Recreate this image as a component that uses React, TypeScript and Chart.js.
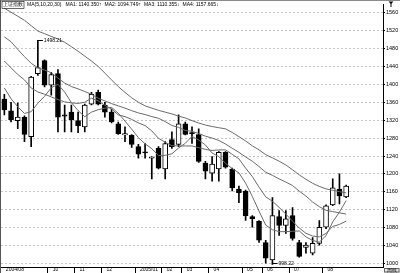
import React, { useEffect, useRef } from "react";
import { Chart, registerables } from "chart.js";

Chart.register(...registerables);

// x-axis tick labels (one slot per week, plus empty slots on the right)
const xLabels: string[] = [
  "2004/08", "", "", "", "", "", "", "10", "", "", "", "11", "", "", "", "12", "", "", "", "",
  "2005/01", "", "", "", "02", "", "", "03", "", "", "", "04", "", "", "", "", "05", "", "", "06",
  "", "", "", "07", "", "", "", "", "08", "", "", "", "", "", "", "", "",
];

const opens: number[] = [
  1367, 1341, 1319, 1327, 1283, 1424, 1453, 1398, 1424, 1332, 1338, 1319, 1305, 1356, 1382, 1354, 1338, 1312, 1287, 1286,
  1261, 1248, 1235, 1257, 1211, 1277, 1266, 1312, 1291, 1288, 1224, 1202, 1211, 1248, 1211, 1166, 1162, 1105, 1094, 1047,
  1008, 1105, 1085, 1107, 1047, 1036, 1023, 1045, 1081, 1131, 1166, 1149,
];
const highs: number[] = [
  1378, 1360, 1358, 1330, 1418, 1498.21, 1455, 1427, 1433, 1354, 1354, 1338, 1356, 1382, 1387, 1360, 1345, 1316, 1305, 1288,
  1266, 1268, 1239, 1261, 1272, 1294, 1332, 1316, 1305, 1301, 1228, 1239, 1250, 1250, 1213, 1173, 1164, 1107, 1096, 1052,
  1147, 1118, 1118, 1125, 1052, 1047, 1058, 1096, 1131, 1189, 1200, 1175,
];
const lows: number[] = [
  1332, 1316, 1301, 1272, 1261, 1420, 1394, 1376, 1294, 1294, 1294, 1292, 1294, 1354, 1354, 1327, 1314, 1288, 1272, 1259,
  1235, 1235, 1189, 1211, 1189, 1257, 1261, 1287, 1268, 1226, 1189, 1184, 1184, 1213, 1162, 1136, 1096, 1081, 1047, 1001,
  998.22, 1063, 1067, 1052, 1014, 1023, 1019, 1041, 1078, 1129, 1133, 1147,
];
const closes: number[] = [
  1343, 1321, 1327, 1288, 1416, 1437.6, 1398, 1422, 1327, 1329, 1321, 1308, 1354, 1378, 1356, 1338, 1316, 1290, 1290, 1265.7,
  1244, 1247, 1236, 1213, 1268, 1261, 1312, 1288, 1290, 1228, 1206, 1222, 1248, 1215, 1169, 1158, 1107, 1100, 1052, 1012,
  1107, 1085, 1100, 1056, 1016, 1041, 1045, 1081, 1129, 1169, 1151, 1173,
];

// moving averages
const ma5: number[] = [
  1392, 1368, 1350, 1335, 1339, 1357.9, 1373.3, 1392.3, 1400.1, 1382.7, 1359.4, 1341.4, 1327.8, 1338, 1343.4, 1346.8, 1348.4, 1335.6, 1318, 1299.9,
  1281.1, 1267.3, 1256.5, 1241.1, 1241.6, 1245, 1258, 1268.4, 1283.8, 1275.8, 1264.8, 1246.8, 1238.8, 1223.8, 1212, 1202.4, 1179.4, 1149.8, 1117.2, 1085.8,
  1075.6, 1071.2, 1071.2, 1072, 1072.8, 1059.6, 1051.6, 1047.8, 1062.4, 1093, 1115, 1140.35,
];
const ma10: number[] = [
  1452, 1437, 1422, 1410, 1392, 1383, 1378, 1372, 1366, 1360.9, 1358.7, 1357.4, 1360.1, 1369.1, 1363.1, 1353.1, 1344.9, 1331.7, 1328, 1321.7,
  1314, 1307.9, 1296.1, 1279.6, 1270.8, 1263.1, 1262.7, 1262.5, 1262.5, 1258.7, 1254.9, 1252.4, 1253.6, 1253.8, 1243.9, 1233.6, 1213.1, 1194.3, 1170.5, 1148.9,
  1139, 1125.3, 1110.5, 1094.6, 1079.3, 1067.6, 1061.4, 1059.5, 1067.2, 1082.9, 1087.3, 1094.749,
];
const ma20: number[] = [
  1506, 1495, 1478, 1462, 1447, 1437, 1432, 1426, 1414, 1403, 1395, 1390, 1384, 1378, 1369, 1363, 1357, 1352, 1347, 1341.3,
  1336.3, 1332.6, 1328.1, 1324.3, 1316.9, 1308.1, 1303.8, 1297.1, 1295.2, 1290.2, 1284.4, 1280.1, 1274.8, 1266.7, 1257.3, 1248.3, 1237.9, 1228.4, 1216.5, 1203.8,
  1197, 1188.9, 1182, 1174.2, 1161.6, 1150.6, 1137.3, 1126.9, 1118.9, 1115.9, 1113.2, 1110.355,
];
const ma30: number[] = [
  1570, 1561, 1552, 1543, 1531, 1519, 1513, 1507, 1501, 1494, 1484, 1474, 1463, 1452, 1440, 1425, 1410, 1395, 1382, 1370,
  1360, 1352, 1347, 1342, 1338, 1334, 1329, 1325, 1319, 1313.7, 1309.2, 1305.9, 1303.2, 1300.8, 1292.6, 1283.3, 1273.6, 1262.8, 1253.7, 1243.1,
  1236, 1228.5, 1220.1, 1209.3, 1198, 1188.1, 1179.1, 1172.1, 1166.7, 1163.5, 1160.4, 1157.665,
];

const yTickValues: number[] = [
  1000, 1020, 1040, 1060, 1080, 1100, 1120, 1140, 1160, 1180, 1200, 1220, 1240, 1260, 1280,
  1300, 1320, 1340, 1360, 1380, 1400, 1420, 1440, 1460, 1480, 1500, 1520, 1540, 1560,
];

const titleName = "上证指数";
const maTitle = "MA(5,10,20,30)";
const maNames = ["MA1", "MA2", "MA3", "MA4"];
const maLast = ["1140.350", "1094.749", "1110.355", "1157.665"];
const maArrows = ["↑", "↑", "↓", "↓"];

const FONT = "'Liberation Sans', Arial, sans-serif";

const decorPlugin = {
  id: "decor",
  afterDraw(chart: any) {
    const ctx = chart.ctx as CanvasRenderingContext2D;
    const xs = chart.scales.x;
    const ys = chart.scales.y;
    const area = chart.chartArea;
    ctx.save();
    // frame lines
    ctx.fillStyle = "#8a8a8a";
    ctx.fillRect(0, 0, chart.width, 1);
    ctx.fillStyle = "#555";
    ctx.fillRect(0, 0, 1, chart.height);

    // title row
    ctx.font = `5px ${FONT}`;
    ctx.textBaseline = "middle";
    ctx.fillStyle = "#000";
    let x = 3;
    const ty = 5;
    ctx.fillText(titleName, x, ty);
    const w0 = ctx.measureText(titleName).width;
    ctx.strokeStyle = "#000";
    ctx.lineWidth = 0.6;
    ctx.strokeRect(x - 1, 1.5, w0 + 2, 7);
    x += w0 + 4;
    ctx.fillText(maTitle, x, ty);
    x += ctx.measureText(maTitle).width + 4;
    for (let i = 0; i < maNames.length; i++) {
      const t = `${maNames[i]}: ${maLast[i]}${maArrows[i]}`;
      ctx.fillText(t, x, ty);
      x += ctx.measureText(t).width + 3;
    }

    // extreme annotations
    let hi = 0;
    let lo = 0;
    for (let i = 0; i < highs.length; i++) {
      if (highs[i] > highs[hi]) hi = i;
      if (lows[i] < lows[lo]) lo = i;
    }
    ctx.strokeStyle = "#000";
    ctx.lineWidth = 1;
    const hx = xs.getPixelForValue(hi);
    const hy = Math.round(ys.getPixelForValue(highs[hi])) + 0.5;
    ctx.beginPath();
    ctx.moveTo(hx, hy);
    ctx.lineTo(hx + 5, hy);
    ctx.stroke();
    ctx.fillText(highs[hi].toFixed(2), hx + 6, hy);
    const lx = xs.getPixelForValue(lo);
    const ly = Math.round(ys.getPixelForValue(lows[lo])) - 0.5;
    ctx.beginPath();
    ctx.moveTo(lx, ly);
    ctx.lineTo(lx + 5, ly);
    ctx.stroke();
    ctx.fillText(lows[lo].toFixed(2), lx + 6, ly);

    // corner box
    ctx.fillStyle = "#e8e8e8";
    ctx.fillRect(area.right + 1, area.bottom + 1, chart.width - area.right - 1, chart.height - area.bottom - 1);
    ctx.strokeStyle = "#666";
    ctx.strokeRect(area.right + 1.5, area.bottom + 1.5, chart.width - area.right - 2.5, chart.height - area.bottom - 2.5);
    ctx.fillStyle = "#000";
    ctx.textAlign = "center";
    ctx.fillText("周线", (area.right + chart.width) / 2 + 0.5, (area.bottom + chart.height) / 2 + 0.5);

    // scroll marker top-right
    ctx.beginPath();
    const mx = 391;
    ctx.moveTo(mx - 2.5, 1.5);
    ctx.lineTo(mx + 2.5, 1.5);
    ctx.lineTo(mx, 4);
    ctx.closePath();
    ctx.fill();
    ctx.fillRect(mx - 0.5, 3, 1, 4);
    ctx.restore();
  },
};

export default function App() {
  const ref = useRef<HTMLCanvasElement | null>(null);
  useEffect(() => {
    document.body.style.margin = "0";
    const canvas = ref.current;
    if (!canvas) return;
    const bodies = opens.map((o, i) => [o, closes[i]]);
    const wicks = lows.map((l, i) => [l, highs[i]]);
    const bodyColors = opens.map((o, i) => (closes[i] >= o ? "#ffffff" : "#000000"));
    const lineDs = (data: number[], color: string) => ({
      type: "line" as const,
      data,
      borderColor: color,
      borderWidth: 1,
      pointRadius: 0,
      tension: 0,
      order: 0,
    });
    const chart = new Chart(canvas, {
      type: "bar",
      data: {
        labels: xLabels,
        datasets: [
          lineDs(ma5, "#6a6a6a"),
          lineDs(ma10, "#6a6a6a"),
          lineDs(ma20, "#6a6a6a"),
          lineDs(ma30, "#6a6a6a"),
          {
            type: "bar",
            data: bodies as any,
            backgroundColor: bodyColors,
            borderColor: "#000",
            borderWidth: 1,
            borderSkipped: false,
            barThickness: 5,
            grouped: false,
            minBarLength: 1,
            order: 1,
          } as any,
          {
            type: "bar",
            data: wicks as any,
            backgroundColor: "#000",
            borderWidth: 0,
            barThickness: 1,
            grouped: false,
            order: 2,
          } as any,
        ],
      },
      options: {
        responsive: false,
        maintainAspectRatio: false,
        animation: false,
        events: [],
        layout: { padding: { left: 1, top: 1, right: 0, bottom: 0 } },
        plugins: { legend: { display: false }, tooltip: { enabled: false } },
        scales: {
          x: {
            type: "category",
            offset: true,
            grid: {
              display: true,
              drawOnChartArea: false,
              drawTicks: true,
              tickLength: 6,
              tickWidth: 1,
              tickColor: (c: any) => (xLabels[c.index] ? "#000" : "rgba(0,0,0,0)"),
            },
            border: { display: true, color: "#000", width: 1 },
            ticks: {
              autoSkip: false,
              maxRotation: 0,
              minRotation: 0,
              align: "start",
              labelOffset: 1.5,
              padding: -6,
              color: "#000",
              font: { size: 5, family: FONT },
            },
            afterFit: (s: any) => {
              s.height = 6;
            },
          },
          y: {
            type: "linear",
            position: "right",
            min: 992.3,
            max: 1578.7,
            afterBuildTicks: (s: any) => {
              s.ticks = yTickValues.map((v) => ({ value: v }));
            },
            grid: {
              color: (c: any) => (c.tick && c.tick.value % 40 === 0 ? "#c4c4c4" : "rgba(0,0,0,0)"),
              tickColor: "#000",
              tickLength: 2,
              lineWidth: 1,
            },
            border: { display: true, color: "#000", width: 1, dash: [2, 2] },
            ticks: {
              color: "#000",
              padding: 1,
              font: { size: 5.5, family: FONT },
              callback: (v: any) => String(v),
            },
            afterFit: (s: any) => {
              s.width = 17;
            },
          },
        },
      } as any,
      plugins: [decorPlugin],
    });
    return () => chart.destroy();
  }, []);
  return (
    <div style={{ width: 400, height: 273 }}>
      <canvas ref={ref} width={400} height={273} style={{ display: "block", width: 400, height: 273 }} />
    </div>
  );
}
